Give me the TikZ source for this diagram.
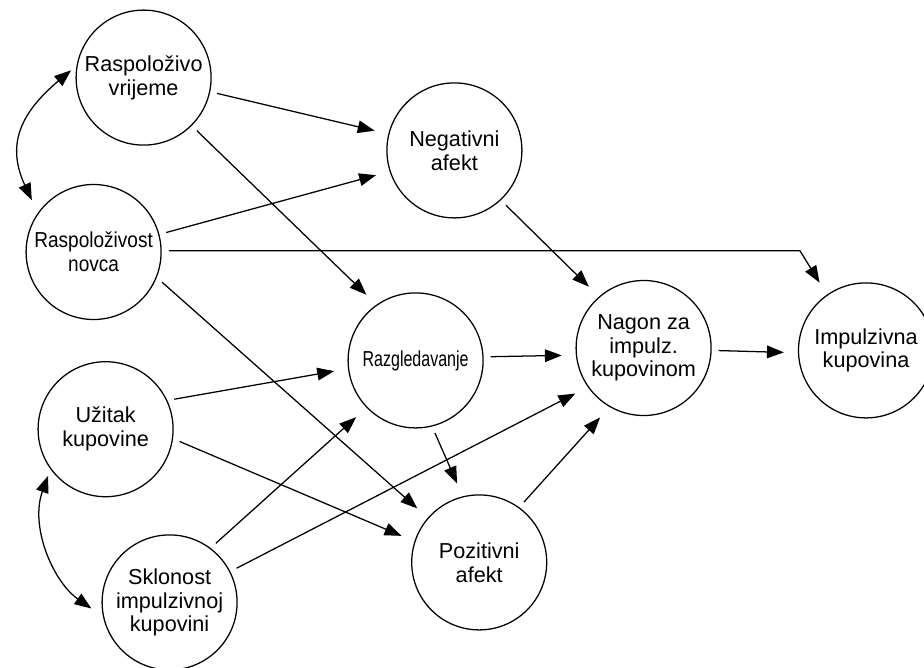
\documentclass[tikz,border=0pt]{standalone}
\usepackage{fontspec}
\setmainfont{Liberation Sans}
\newfontfamily\uskifont[FakeStretch=0.88]{Liberation Sans}
\newfontfamily\vrlouskifont[FakeStretch=0.74]{Liberation Sans}
\usetikzlibrary{arrows.meta}

\begin{document}
\begin{tikzpicture}[
			krug/.style={circle, draw, line width=0.9pt, minimum size=3.375cm, inner sep=0pt, align=center},
			every node/.style={font=\fontsize{15.4}{16.9}\selectfont},
			line width=0.9pt,
			->, >={Triangle[length=12pt, width=9pt]},
			shorten <=5pt, shorten >=10pt,
			]
			\useasboundingbox (0,0) rectangle (23.1,-16.675);
			
			% Konstrukti
			\node[krug] (Vrijeme) at (3.59,-1.94) {Raspoloživo\\vrijeme};
			\node[krug] (Negativni) at (11.36,-3.76) {Negativni\\afekt};
			\node[krug, font=\uskifont\fontsize{15.4}{16.9}\selectfont] (Novac) at (2.34,-6.30) {Raspoloživost\\novca};
			\node[krug, font=\vrlouskifont\fontsize{15.4}{16.9}\selectfont] (Razgledavanje) at (10.39,-9.01) {Razgledavanje};
			\node[krug] (Nagon) at (16.09,-8.70) {Nagon za\\impulz.\\kupovinom};
			\node[krug] (Impulzivna) at (21.65,-8.76) {Impulzivna\\kupovina};
			\node[krug] (Uzitak) at (2.64,-10.73) {Užitak\\kupovine};
			\node[krug] (Pozitivni) at (11.98,-14.06) {Pozitivni\\afekt};
			\node[krug] (Sklonost) at (4.24,-15.06) {Sklonost\\impulzivnoj\\kupovini};
			\coordinate (knick) at (20.0,-6.27);
			
			% Veze
			\path
			(Vrijeme.348) edge (Negativni.166)
			(Vrijeme.315) edge (Razgledavanje.125)
			(Novac.15) edge (Negativni.198)
			(Novac.338) edge (Pozitivni.139)
			(Negativni.313) edge (Nagon.131)
			(Razgledavanje.3) edge (Nagon.186)
			(Razgledavanje.284) edge (Pozitivni.104)
			(Nagon.358) edge (Impulzivna.182)
			(Uzitak.25) edge (Razgledavanje.187)
			(Uzitak.352) edge (Pozitivni.162)
			(Sklonost.53) edge (Razgledavanje.224)
			(Sklonost.27) edge (Nagon.215)
			(Pozitivni.54) edge (Nagon.240)
			(Vrijeme.170) edge[<->, out=220, in=115, looseness=1.25] (Novac.145)
			(Uzitak.216) edge[<->, out=250, in=145] (Sklonost.192)
			;
			\draw (Novac.1) -- (knick) -- (Impulzivna.125);
			
		\end{tikzpicture}
\end{document}
